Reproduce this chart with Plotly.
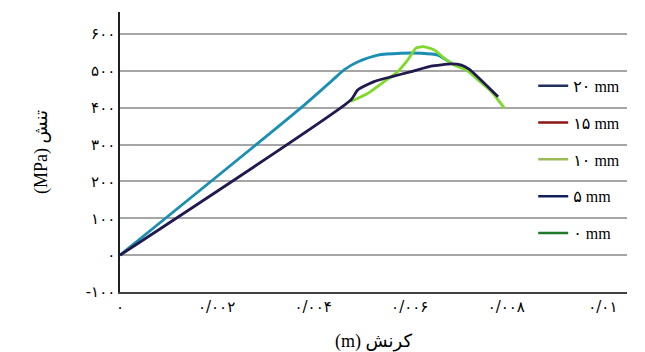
import plotly.graph_objects as go

# ---- data ----
strain_teal = [0, 0.00374, 0.0044, 0.00464, 0.00493, 0.00534, 0.00582, 0.00624, 0.00658, 0.00686]
stress_teal = [0, 399, 475, 503, 525, 543, 548, 548, 543, 521]

strain_dark = [0, 0.00478, 0.00492, 0.00526, 0.00561, 0.00603, 0.00644, 0.00686, 0.00707, 0.00723, 0.00783]
stress_dark = [0, 421, 448, 471, 484, 498, 513, 519, 516, 505, 430]

strain_lime = [0.00478, 0.00513, 0.00547, 0.00575, 0.00596, 0.00613, 0.00627, 0.00651,
               0.00672, 0.00692, 0.00717, 0.00742, 0.00769, 0.00796]
stress_lime = [417, 439, 471, 498, 530, 562, 566, 557, 534, 516, 503, 475, 444, 399]

legend_names = ["۲۰ mm", "۱۵ mm", "۱۰ mm", "۵ mm", "۰ mm"]
legend_colors = ["#1f2f5e", "#8b1414", "#9bbb59", "#14205c", "#1f7a2a"]

x_tickvals = [0, 0.002, 0.004, 0.006, 0.008, 0.01]
x_ticktext = ["۰", "۰/۰۰۲", "۰/۰۰۴", "۰/۰۰۶", "۰/۰۰۸", "۰/۰۱"]
y_tickvals = [-100, 0, 100, 200, 300, 400, 500, 600]
y_ticktext = ["-۱۰۰", "۰", "۱۰۰", "۲۰۰", "۳۰۰", "۴۰۰", "۵۰۰", "۶۰۰"]

fig = go.Figure()
fig.add_trace(go.Scatter(x=strain_teal, y=stress_teal, mode="lines", line_shape="spline",
                         line=dict(color="#1b8fb3", width=2.8, smoothing=0.6), showlegend=False))
fig.add_trace(go.Scatter(x=strain_lime, y=stress_lime, mode="lines", line_shape="spline",
                         line=dict(color="#7ed92b", width=2.8, smoothing=0.5), showlegend=False))
fig.add_trace(go.Scatter(x=strain_dark, y=stress_dark, mode="lines", line_shape="spline",
                         line=dict(color="#211a4e", width=2.8, smoothing=0.5), showlegend=False))

for name, col in zip(legend_names, legend_colors):
    fig.add_trace(go.Scatter(x=[None], y=[None], mode="lines", name=name, legendgroup=name,
                             line=dict(color=col, width=2.5)))

fig.update_layout(
    width=645, height=352,
    margin=dict(l=120, r=18, t=12, b=60, autoexpand=False),
    paper_bgcolor="white", plot_bgcolor="white",
    font=dict(family="Liberation Serif, DejaVu Sans", color="black"),
    legend=dict(x=0.815, xanchor="left", y=0.797, yanchor="top",
                bgcolor="rgba(0,0,0,0)", tracegroupgap=13,
                font=dict(family="Liberation Serif, DejaVu Sans", size=16, color="black")),
    xaxis=dict(range=[0, 0.0105], tickvals=x_tickvals, ticktext=x_ticktext, automargin=False,
               showgrid=False, zeroline=False, showline=True, linecolor="#404040", linewidth=1.5,
               tickfont=dict(family="DejaVu Sans", size=15, color="black"), ticks="",
               title=dict(text="(m) کرنش", standoff=24,
                          font=dict(family="Liberation Serif, DejaVu Sans", size=18))),
    yaxis=dict(range=[-100, 660], tickvals=y_tickvals, ticktext=y_ticktext, automargin=False,
               showgrid=True, gridcolor="#a6a6a6", gridwidth=1.5, zeroline=False,
               showline=True, linecolor="#202020", linewidth=1.5,
               tickfont=dict(family="DejaVu Sans", size=15, color="black"), ticks="",
               title=dict(text="(MPa) تنش", standoff=33,
                          font=dict(family="Liberation Serif, DejaVu Sans", size=18))),
)

fig.write_html("out.html")
